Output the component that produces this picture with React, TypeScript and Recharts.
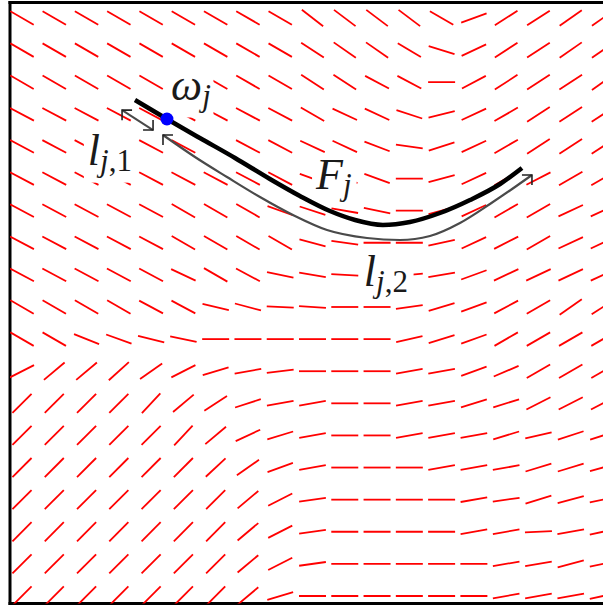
import { ComposedChart, Scatter, XAxis, YAxis, ReferenceLine } from "recharts";

// Direction field sampled on a 19 x 19 grid, degrees counter-clockwise from +x.
// Rows run top to bottom, columns left to right.
const fieldAngles: number[][] = [
  [-30, -30, -30, -30, -30, -30, -30, -30, -30, -38, -37, -37, -37, -30, 20, 33, 33, 35, 35],
  [-30, -30, -30, -30, -30, -30, -30, -30, -30, -33, -35, -35, -31, -17, 25, 33, 33, 35, 35],
  [-30, -30, -30, -30, -30, -30, -30, -30, -30, -33, -33, -28, -28, 0, 28, 33, 33, 33, 35],
  [-28, -28, -28, -28, -28, -28, -28, -28, -28, -30, -25, -25, -18, 14, 25, 30, 33, 33, 33],
  [-28, -28, -28, -28, -28, -28, -28, -28, -28, -25, -25, -21, -8, 18, 25, 30, 33, 33, 33],
  [-28, -28, -28, -28, -28, -28, -28, -28, -28, -20, -20, -20, 0, 15, 25, 30, 27, 30, 30],
  [-28, -28, -28, -28, -28, -30, -30, -30, -20, -18, -10, -12, 0, 15, 25, 30, 30, 25, 25],
  [-28, -28, -28, -28, -28, -30, -30, -30, -30, -15, -8, 0, 0, 12, 25, 27, 30, 25, 25],
  [-28, -28, -28, -28, -28, -25, -30, -28, -12, -10, -3, 0, 5, 10, 20, 25, 25, 25, 25],
  [-30, -30, -30, -30, -28, -28, -13, -15, -3, -4, 0, 0, 8, 17, 20, 28, 30, 35, 33],
  [-30, -30, -22, -20, -14, -12, 0, 0, 0, 0, 0, 0, 13, 17, 20, 30, 30, 30, 30],
  [27, 40, 40, 42, 35, 27, 17, 10, 7, 0, 0, 0, 10, 10, 20, 23, 30, 30, 30],
  [45, 45, 45, 45, 47, 40, 33, 18, 10, 10, 0, 0, 10, 10, 17, 17, 27, 27, 27],
  [45, 45, 45, 45, 45, 47, 40, 25, 17, 10, 0, 0, 10, 10, 10, 17, 13, 18, 18],
  [45, 45, 45, 45, 45, 45, 43, 35, 20, 10, 0, 0, 0, 10, 10, 10, 17, 17, 15],
  [45, 45, 45, 45, 45, 45, 45, 40, 27, 8, 0, 0, 0, 0, 10, 8, 17, 15, 12],
  [45, 45, 45, 45, 45, 45, 45, 40, 27, 8, 0, 0, 0, 0, 10, 10, 3, 10, 12],
  [45, 45, 45, 45, 45, 45, 45, 40, 27, 8, 0, 0, 0, 0, 0, 10, 10, 15, 12],
  [45, 45, 45, 45, 45, 45, 45, 40, 17, 0, 0, 0, 0, 0, 0, 10, 10, 10, 12],
];

// fiber F_j (grid units)
const fiberX = [3.5, 4.49, 5.51, 6.6, 7.68, 8.61, 9.54, 10.32, 11.18, 12.02, 12.95, 13.88, 14.81, 15.49];
const fiberY = [2.554, 3.146, 3.737, 4.36, 5.014, 5.543, 6.011, 6.291, 6.447, 6.353, 6.073, 5.668, 5.17, 4.671];

// length l_{j,2}, drawn just below the fiber
const arcX = [4.368, 5.359, 6.351, 7.373, 8.395, 9.449, 10.688, 11.71, 12.639, 13.569, 14.498, 15.273, 15.799];
const arcY = [3.644, 4.329, 4.952, 5.575, 6.135, 6.602, 6.851, 6.914, 6.789, 6.384, 5.793, 5.263, 4.889];

// length l_{j,1}
const stubX = [3.1, 4.06];
const stubY = [2.87, 3.49];

// seed point omega_j
const seedX = [4.49];
const seedY = [3.146];

// arrow tips: ul = opens up-left, dr = down-right, ur = up-right
const tipX = [3.1, 4.06, 4.368, 15.799];
const tipY = [2.87, 3.49, 3.644, 4.889];
const tipDir = ["ul", "dr", "ul", "ur"];

// labels: main symbol, italic subscript, upright rest of subscript
const labelMain = ["ω", "l", "F", "l"];
const labelSub = ["j", "j", "j", "j"];
const labelRest = ["", ",1", "", ",2"];
const labelX = [4.62, 2.04, 9.11, 10.59];
const labelY = [2.55, 4.58, 5.33, 8.35];

const W = 603;
const H = 606;
const X_DOMAIN: [number, number] = [-0.3718, 18];
const Y_DOMAIN: [number, number] = [-0.4827, 18.234];
const DASH = 27;
const FONT = "'Liberation Serif', 'DejaVu Serif', serif";
const MAIN_FS = 44;
const SUB_FS = 31;

const fieldPoints = fieldAngles.flatMap((row, r) => row.map((angle, c) => ({ x: c, y: r, angle })));
const fiber = fiberX.map((x, i) => ({ x, y: fiberY[i] }));
const arc = arcX.map((x, i) => ({ x, y: arcY[i] }));
const stub = stubX.map((x, i) => ({ x, y: stubY[i] }));
const seed = seedX.map((x, i) => ({ x, y: seedY[i] }));
const tips = tipX.map((x, i) => ({ x, y: tipY[i], dir: tipDir[i] }));
const labels = labelMain.map((main, i) => ({
  x: labelX[i],
  y: labelY[i],
  main,
  sub: labelSub[i],
  rest: labelRest[i],
}));

const glyphWidth: Record<string, number> = { "ω": 0.66, l: 0.3, F: 0.62, j: 0.3, ",": 0.25, "1": 0.5, "2": 0.5 };

const textWidth = (s: string, fs: number) =>
  s.split("").reduce((w, ch) => w + (glyphWidth[ch] ?? 0.5) * fs, 0);

function Dash(props: any) {
  const { cx, cy, payload } = props;
  const t = (payload.angle * Math.PI) / 180;
  const dx = (DASH / 2) * Math.cos(t);
  const dy = (DASH / 2) * Math.sin(t);
  return <line x1={cx - dx} y1={cy + dy} x2={cx + dx} y2={cy - dy} stroke="#ff0000" strokeWidth={1.8} />;
}

function Tip(props: any) {
  const { cx, cy, payload } = props;
  const s = 10;
  const hx = payload.dir === "ul" ? s : -s;
  const vy = payload.dir === "dr" ? -s : s;
  return (
    <path
      d={`M${cx + hx},${cy} L${cx},${cy} L${cx},${cy + vy}`}
      fill="none"
      stroke="#222"
      strokeWidth={1.6}
    />
  );
}

function Seed(props: any) {
  const { cx, cy } = props;
  return <circle cx={cx} cy={cy} r={6.5} fill="#0000ff" />;
}

const NoMarker = () => <g />;

function Label(props: any) {
  const { cx, cy, payload } = props;
  const w = textWidth(payload.main, MAIN_FS) + textWidth(payload.sub + payload.rest, SUB_FS);
  return (
    <g>
      <rect x={cx - 4} y={cy - MAIN_FS * 0.78} width={w + 8} height={MAIN_FS * 1.18} fill="#fff" />
      <text x={cx} y={cy} fontFamily={FONT} fontStyle="italic" fontSize={MAIN_FS} fill="#1a1a1a">
        {payload.main}
        <tspan fontSize={SUB_FS} dy={6}>
          {payload.sub}
        </tspan>
        {payload.rest && (
          <tspan fontSize={SUB_FS} fontStyle="normal">
            {payload.rest}
          </tspan>
        )}
      </text>
    </g>
  );
}

export default function App() {
  return (
    <div style={{ position: "absolute", left: 0, top: 0, width: W, height: H, overflow: "hidden", background: "#fff" }}>
      <ComposedChart width={W} height={H} margin={{ top: 2.5, right: 0, bottom: 2.5, left: 10 }}>
        <XAxis type="number" dataKey="x" domain={X_DOMAIN} allowDataOverflow hide />
        <YAxis type="number" dataKey="y" domain={Y_DOMAIN} allowDataOverflow reversed hide />
        <Scatter data={fieldPoints} shape={Dash} isAnimationActive={false} />
        <Scatter data={labels} shape={Label} isAnimationActive={false} />
        <Scatter
          data={arc}
          shape={NoMarker}
          line={{ stroke: "#4a4a4a", strokeWidth: 2.2, fill: "none" }}
          lineType="joint"
          lineJointType="monotoneX"
          isAnimationActive={false}
        />
        <Scatter
          data={stub}
          shape={NoMarker}
          line={{ stroke: "#4a4a4a", strokeWidth: 2, fill: "none" }}
          lineType="joint"
          isAnimationActive={false}
        />
        <Scatter
          data={fiber}
          shape={NoMarker}
          line={{ stroke: "#000", strokeWidth: 4.5, fill: "none" }}
          lineType="joint"
          lineJointType="monotoneX"
          isAnimationActive={false}
        />
        <Scatter data={tips} shape={Tip} isAnimationActive={false} />
        <Scatter data={seed} shape={Seed} isAnimationActive={false} />
        <ReferenceLine x={X_DOMAIN[0]} stroke="#000" strokeWidth={3} strokeLinecap="square" />
        <ReferenceLine y={Y_DOMAIN[0]} stroke="#000" strokeWidth={3} strokeLinecap="square" />
        <ReferenceLine y={Y_DOMAIN[1]} stroke="#000" strokeWidth={3} strokeLinecap="square" />
      </ComposedChart>
    </div>
  );
}
